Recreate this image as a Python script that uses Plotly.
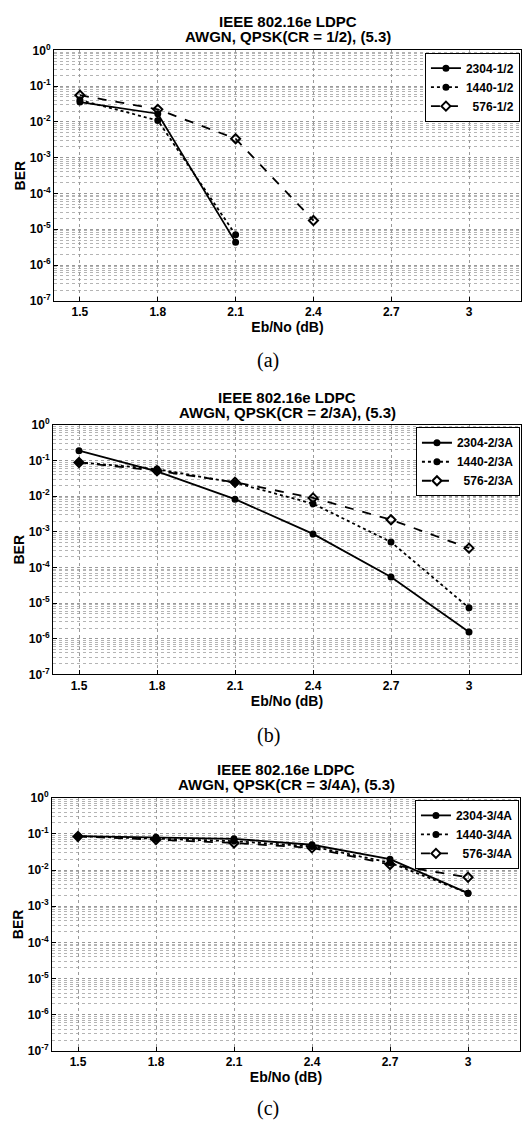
import plotly.graph_objects as go

# Eb/No sweep points (dB)
ebno = [1.5, 1.8, 2.1, 2.4, 2.7, 3.0]

# Panel (a): rate 1/2
ber_a_2304 = [0.036, 0.017, 4.3e-6]
ber_a_1440 = [0.041, 0.011, 7.0e-6]
ber_a_576 = [0.056, 0.0225, 0.0034, 1.75e-5]

# Panel (b): rate 2/3A
ber_b_2304 = [0.19, 0.05, 0.0083, 8.8e-4, 5.4e-5, 1.55e-6]
ber_b_1440 = [0.09, 0.058, 0.024, 0.0062, 5.2e-4, 7.4e-6]
ber_b_576 = [0.089, 0.052, 0.0248, 0.009, 0.0022, 3.5e-4]

# Panel (c): rate 3/4A
ber_c_2304 = [0.086, 0.081, 0.073, 0.05, 0.02, 0.0023]
ber_c_1440 = [0.086, 0.073, 0.063, 0.045, 0.016, 0.0023]
ber_c_576 = [0.085, 0.07, 0.056, 0.041, 0.0143, 0.0063]

rates = ["1/2", "2/3A", "3/4A"]
panel_tags = ["(a)", "(b)", "(c)"]
block_sizes = ["2304", "1440", "\u2007576"]

x_tickvals = [1.5, 1.8, 2.1, 2.4, 2.7, 3.0]
x_ticktext = ["1.5", "1.8", "2.1", "2.4", "2.7", "3"]
y_exps = list(range(-7, 1))

W, H = 525, 1129
SANS = "Liberation Sans"

# plot-area boxes in pixels: (left, right, top, bottom)
boxes = [(54, 521, 42, 296), (53, 521, 422, 675), (52, 520, 800, 1057)]
title_y = [(13, 28), (394, 409), (771, 787)]
tag_y = [357, 737, 1115]

series = [
    [ber_a_2304, ber_a_1440, ber_a_576],
    [ber_b_2304, ber_b_1440, ber_b_576],
    [ber_c_2304, ber_c_1440, ber_c_576],
]
styles = [
    dict(dash="solid", symbol="circle", size=5),
    dict(dash="dot", symbol="circle", size=5),
    dict(dash="dash", symbol="diamond-open", size=7),
]

fig = go.Figure()
annotations = []
layout = {}

for p in range(3):
    L, R, T, B = boxes[p]
    xd = [L / W, R / W]
    yd = [1 - B / H, 1 - T / H]
    sfx = "" if p == 0 else str(p + 1)
    leg = "legend" if p == 0 else f"legend{p + 1}"
    for s in range(3):
        yv = series[p][s]
        st = styles[s]
        fig.add_trace(go.Scatter(
            x=ebno[:len(yv)], y=yv, mode="lines+markers",
            name=f"{block_sizes[s]}-{rates[p]}",
            line=dict(color="black", width=1.8, dash=st["dash"]),
            marker=dict(symbol=st["symbol"], size=st["size"], color="black",
                        line=dict(color="black", width=2)),
            xaxis="x" + sfx, yaxis="y" + sfx, legend=leg,
        ))
    layout["xaxis" + sfx] = dict(
        domain=xd, anchor="y" + sfx, range=[1.4, 3.2],
        tickvals=x_tickvals, ticktext=x_ticktext,
        showgrid=True, gridcolor="#9a9a9a", griddash="dot", gridwidth=1,
        showline=True, mirror=True, linecolor="black", linewidth=1,
        ticks="inside", ticklen=4, tickcolor="black", zeroline=False,
        tickfont=dict(family=SANS, size=12, color="black", weight="bold"),
        title=dict(text="Eb/No (dB)", standoff=0,
                   font=dict(family=SANS, size=14, color="black", weight="bold")),
    )
    layout["yaxis" + sfx] = dict(
        domain=yd, anchor="x" + sfx, type="log", range=[-7, 0],
        tickvals=[10.0 ** e for e in y_exps],
        ticktext=[f"10<sup>{e}</sup>" for e in y_exps],
        showgrid=True, gridcolor="#9a9a9a", griddash="dot", gridwidth=1,
        minor=dict(dtick="D1", showgrid=True, gridcolor="#b4b4b4",
                   griddash="dot", gridwidth=1),
        showline=True, mirror=True, linecolor="black", linewidth=1,
        ticks="inside", ticklen=4, tickcolor="black", zeroline=False,
        tickfont=dict(family=SANS, size=12, color="black", weight="bold"),
        title=dict(text="BER", standoff=0,
                   font=dict(family=SANS, size=14, color="black", weight="bold")),
    )
    layout[leg] = dict(
        x=xd[1] - 0.002, y=yd[1] - 0.002, xanchor="right", yanchor="top",
        bgcolor="white", bordercolor="black", borderwidth=1,
        font=dict(family=SANS, size=12, color="black", weight="bold"),
        tracegroupgap=0, itemwidth=30,
    )
    cx = (L + R) / 2 / W
    annotations.append(dict(
        text="IEEE 802.16e LDPC", x=cx, y=1 - title_y[p][0] / H,
        xref="paper", yref="paper", showarrow=False, yanchor="middle",
        font=dict(family=SANS, size=15, color="black", weight="bold")))
    annotations.append(dict(
        text=f"AWGN, QPSK(CR = {rates[p]}), (5.3)", x=cx, y=1 - title_y[p][1] / H,
        xref="paper", yref="paper", showarrow=False, yanchor="middle",
        font=dict(family=SANS, size=15, color="black", weight="bold")))
    annotations.append(dict(
        text=panel_tags[p], x=268 / W, y=1 - tag_y[p] / H,
        xref="paper", yref="paper", showarrow=False, yanchor="middle",
        font=dict(family="Liberation Serif", size=20, color="black")))

fig.update_layout(
    width=W, height=H, margin=dict(l=0, r=0, t=0, b=0),
    paper_bgcolor="white", plot_bgcolor="white",
    annotations=annotations, **layout,
)

fig.write_html("out.html")
